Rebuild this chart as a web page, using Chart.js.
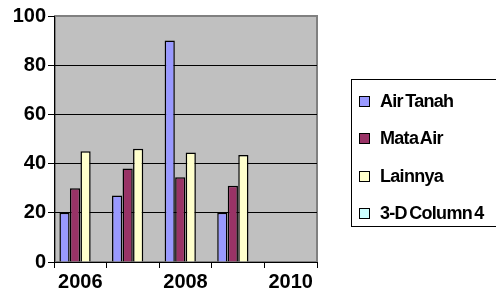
<!DOCTYPE html>
<html>
<head>
<meta charset="utf-8">
<script src="https://cdn.jsdelivr.net/npm/chart.js@4.4.0/dist/chart.umd.min.js"></script>
<style>
  html, body { margin: 0; padding: 0; background: #fff; overflow: hidden; }
  #wrap { position: relative; width: 496px; height: 299px; }
  #legend {
    position: absolute; left: 351px; top: 79px; width: 170px; height: 148px;
    border: 1px solid #000; box-sizing: border-box;
    font: bold 18px "Liberation Sans", Arial, sans-serif; letter-spacing: -0.7px; word-spacing: -2px;
  }
  .item { position: absolute; left: 7px; height: 20px; display: flex; align-items: center; white-space: nowrap; }
  .sw { width: 9px; height: 9px; border: 1px solid #000; margin-right: 10px; flex: none; }
</style>
</head>
<body>
<div id="wrap">
  <canvas id="chart" width="496" height="299"></canvas>
  <div id="legend"></div>
</div>
<script>
const years = ["2006", "2007", "2008", "2009", "2010"];
const airTanah = [20, 27, 90, 20, null];
const mataAir = [30, 38, 34.5, 31, null];
const lainnya = [45, 46, 44.5, 43.5, null];
const column4 = [null, null, null, null, null];
const seriesNames = ["Air Tanah", "Mata Air", "Lainnya", "3-D Column 4"];
const seriesColors = ["#9999FF", "#993366", "#FFFFCC", "#CCFFFF"];
const yTicks = [0, 20, 40, 60, 80, 100];

const font = { family: '"Liberation Sans", Arial, sans-serif', size: 20, weight: "bold" };

// gray plot wall behind the bars
const plotBg = {
  id: "plotBg",
  beforeDraw(chart) {
    const { ctx, chartArea: a } = chart;
    ctx.save();
    ctx.fillStyle = "#C0C0C0";
    ctx.fillRect(a.left, a.top, a.right - a.left, a.bottom - a.top);
    ctx.strokeStyle = "#808080";
    ctx.lineWidth = 2;
    ctx.strokeRect(a.left + 1, a.top, a.right - a.left - 1, a.bottom - a.top);
    ctx.restore();
  },
};

const allSeries = [airTanah, mataAir, lainnya, column4];
const datasets = allSeries.map((data, i) => ({
  label: seriesNames[i],
  data: data,
  backgroundColor: seriesColors[i],
  borderColor: "#000",
  borderWidth: 1.5,
  barPercentage: 0.97,
  categoryPercentage: 0.8,
}));

new Chart(document.getElementById("chart"), {
  type: "bar",
  data: { labels: years, datasets: datasets },
  options: {
    responsive: false,
    animation: false,
    layout: { padding: { top: 16, left: 0, right: 179, bottom: 0 } },
    plugins: { legend: { display: false }, tooltip: { enabled: false } },
    scales: {
      x: {
        grid: { drawOnChartArea: false, color: "#000", tickLength: 6, offset: true },
        border: { color: "#000", width: 1 },
        ticks: {
          color: "#000",
          font: font,
          autoSkip: false,
          maxRotation: 0,
          padding: 2,
          callback: (v, i) => (i % 2 === 0 ? years[i] : ""),
        },
        afterFit: (s) => { s.height = 37; },
      },
      y: {
        min: 0,
        max: 100,
        afterBuildTicks: (s) => { s.ticks = yTicks.map((v) => ({ value: v })); },
        grid: {
          color: (c) => (c.tick && c.tick.value === 100 ? "#808080" : "#000"),
          tickColor: "#000",
          tickLength: 6,
        },
        border: { color: "#000", width: 1 },
        ticks: { color: "#000", font: font, padding: 2 },
        afterFit: (s) => { s.width = 54; },
      },
    },
  },
  plugins: [plotBg],
});

// legend built from the same series lists
const legendEl = document.getElementById("legend");
const itemTops = [11, 48, 86, 123];
seriesNames.forEach((name, i) => {
  const item = document.createElement("div");
  item.className = "item";
  item.style.top = itemTops[i] + "px";
  const sw = document.createElement("span");
  sw.className = "sw";
  sw.style.background = seriesColors[i];
  const txt = document.createElement("span");
  txt.textContent = name;
  item.appendChild(sw);
  item.appendChild(txt);
  legendEl.appendChild(item);
});
</script>
</body>
</html>
